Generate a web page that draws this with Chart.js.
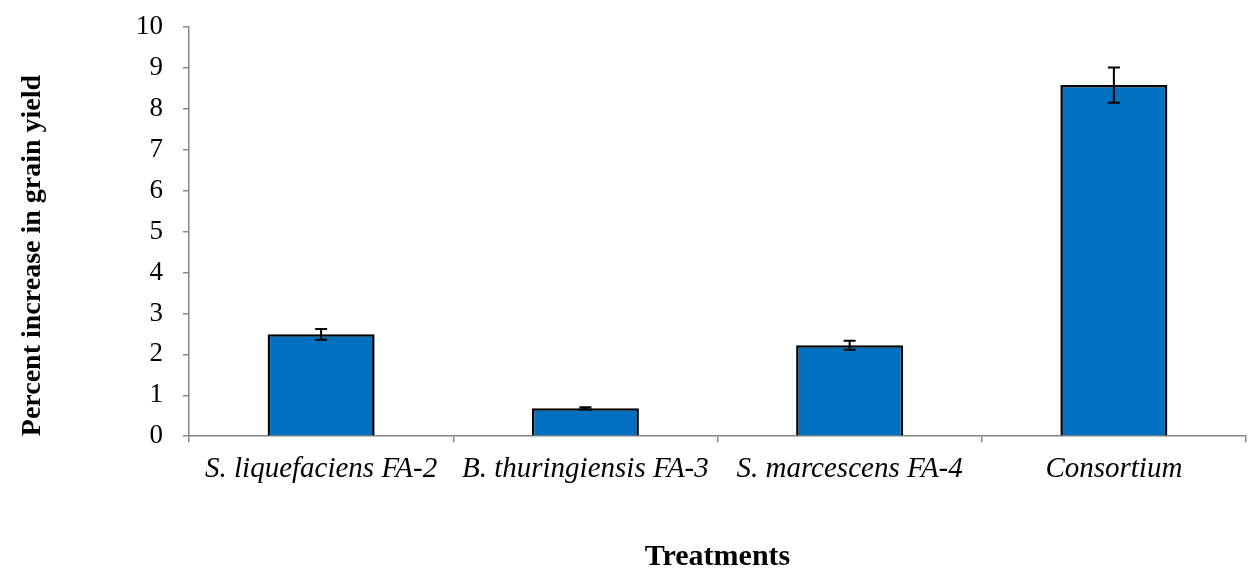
<!DOCTYPE html>
<html>
<head>
<title>Grain yield</title>
<style>
  body { margin: 0; background: #fff; }
  #wrap { width: 1249px; height: 572px; }
</style>
</head>
<body>
<div id="wrap"><canvas id="yieldChart"></canvas></div>
<script src="https://cdn.jsdelivr.net/npm/chart.js"></script>
<script>
const treatments = ['S. liquefaciens FA-2', 'B. thuringiensis FA-3', 'S. marcescens FA-4', 'Consortium'];
const yieldIncrease = [2.49, 0.68, 2.22, 8.58];
const errors = [0.13, 0.03, 0.11, 0.43];

// draws the error bars through the y scale
const errorBars = {
  id: 'errorBars',
  afterDatasetsDraw(chart) {
    const ctx = chart.ctx;
    const meta = chart.getDatasetMeta(0);
    const y = chart.scales.y;
    ctx.save();
    ctx.strokeStyle = '#000';
    ctx.lineWidth = 2;
    meta.data.forEach((bar, i) => {
      const top = y.getPixelForValue(yieldIncrease[i] + errors[i]);
      const bot = y.getPixelForValue(yieldIncrease[i] - errors[i]);
      const x = bar.x;
      ctx.beginPath();
      ctx.moveTo(x, top); ctx.lineTo(x, bot);
      ctx.moveTo(x - 6, top); ctx.lineTo(x + 6, top);
      ctx.moveTo(x - 6, bot); ctx.lineTo(x + 6, bot);
      ctx.stroke();
    });
    ctx.restore();
  }
};

new Chart(document.getElementById('yieldChart'), {
  type: 'bar',
  data: {
    labels: treatments,
    datasets: [{
      data: yieldIncrease,
      backgroundColor: '#0070C0',
      borderColor: '#000',
      borderWidth: 2.5,
      categoryPercentage: 1,
      barPercentage: 0.405
    }]
  },
  options: {
    responsive: true,
    maintainAspectRatio: false,
    animation: false,
    layout: { padding: { left: 10, right: 3, top: 27, bottom: 0 } },
    plugins: {
      legend: { display: false },
      tooltip: { enabled: false }
    },
    scales: {
      x: {
        grid: { display: true, drawOnChartArea: false, tickLength: 6, color: '#868686', lineWidth: 1.5 },
        border: { color: '#868686', width: 1.5 },
        ticks: {
          color: '#000',
          padding: 10,
          maxRotation: 0,
          autoSkip: false,
          font: { family: 'Liberation Serif', size: 29, style: 'italic' }
        },
        title: {
          display: true,
          text: 'Treatments',
          color: '#000',
          padding: { top: 45, bottom: 0 },
          font: { family: 'Liberation Serif', size: 30, weight: 'bold', lineHeight: 1 }
        }
      },
      y: {
        min: 0,
        max: 10,
        afterFit(scale) { scale.width = 179; scale.paddingTop = 7; },
        grid: { display: true, drawOnChartArea: false, tickLength: 6, color: '#868686', lineWidth: 1.5 },
        border: { color: '#868686', width: 1.5 },
        ticks: {
          stepSize: 1,
          color: '#000',
          padding: 20,
          font: { family: 'Liberation Serif', size: 27 }
        },
        title: {
          display: true,
          align: 'start',
          text: 'Percent increase in grain yield',
          color: '#000',
          padding: { top: 6, bottom: 0 },
          font: { family: 'Liberation Serif', size: 28, weight: 'bold' }
        }
      }
    }
  },
  plugins: [errorBars]
});
</script>
</body>
</html>
